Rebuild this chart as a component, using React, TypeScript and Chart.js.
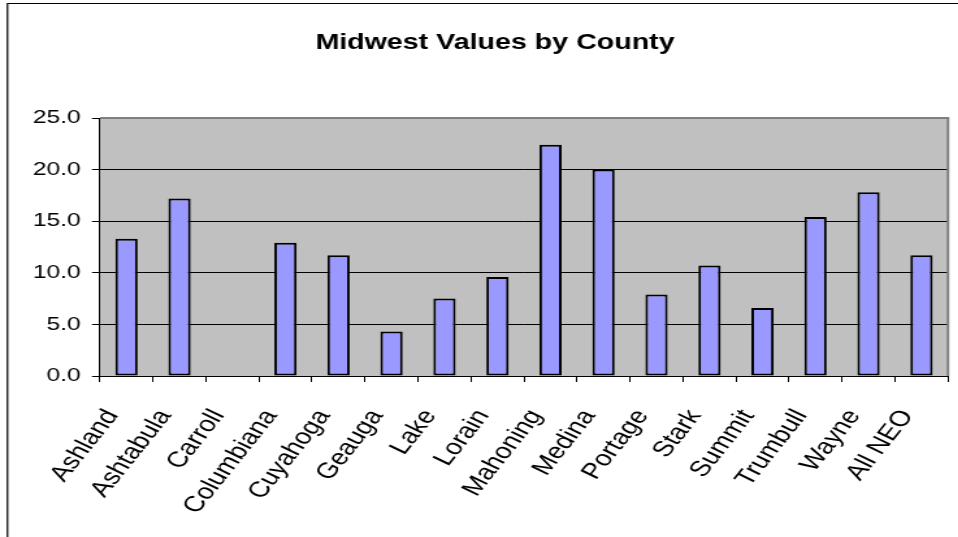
import React, { useEffect, useRef } from "react";
import { Chart, registerables } from "chart.js";

Chart.register(...registerables);

const chartTitle = "Midwest Values by County";
const counties = [
  "Ashland", "Ashtabula", "Carroll", "Columbiana", "Cuyahoga", "Geauga", "Lake", "Lorain",
  "Mahoning", "Medina", "Portage", "Stark", "Summit", "Trumbull", "Wayne", "All NEO",
];
const values = [13.3, 17.2, 0, 12.9, 11.7, 4.3, 7.5, 9.6, 22.4, 20.0, 7.9, 10.7, 6.6, 15.4, 17.8, 11.7];
const yTicks = [0, 5, 10, 15, 20, 25];
const yTickLabels = ["0.0", "5.0", "10.0", "15.0", "20.0", "25.0"];

const FONT = "Arial, 'Liberation Sans', sans-serif";
// The reference picture is horizontally stretched; draw at a narrower width and stretch it.
const SX = 1.3;
const CANVAS_W = 756;
const CANVAS_H = 537;

const decorPlugin = {
  id: "decor",
  beforeDraw(chart: any) {
    const { ctx, chartArea: a, width, height } = chart;
    ctx.save();
    ctx.fillStyle = "#ffffff";
    ctx.fillRect(0, 0, width, height);
    ctx.fillStyle = "#C0C0C0";
    ctx.fillRect(a.left, a.top, a.right - a.left, a.bottom - a.top);
    ctx.strokeStyle = "#000000";
    ctx.lineWidth = 1.2;
    ctx.beginPath();
    ctx.moveTo(7.5 / SX, height + 2);
    ctx.lineTo(7.5 / SX, 3.5);
    ctx.lineTo(width + 2, 3.5);
    ctx.stroke();
    ctx.restore();
  },
  beforeDatasetsDraw(chart: any) {
    const { ctx, chartArea: a } = chart;
    ctx.save();
    ctx.strokeStyle = "#808080";
    ctx.lineWidth = 2;
    ctx.beginPath();
    ctx.moveTo(a.left, a.top);
    ctx.lineTo(a.right, a.top);
    ctx.lineTo(a.right, a.bottom);
    ctx.stroke();
    ctx.restore();
  },
  afterDraw(chart: any) {
    const { ctx } = chart;
    ctx.save();
    ctx.fillStyle = "#000000";
    ctx.font = `bold 22px ${FONT}`;
    ctx.textAlign = "center";
    ctx.textBaseline = "alphabetic";
    ctx.fillText(chartTitle, 495 / SX, 48.5);
    ctx.restore();
  },
};

export default function App() {
  const ref = useRef<HTMLCanvasElement | null>(null);
  useEffect(() => {
    if (!ref.current) return;
    const chart = new Chart(ref.current, {
      type: "bar",
      data: {
        labels: counties,
        datasets: [
          {
            data: values,
            backgroundColor: "#9999FF",
            borderColor: "#000000",
            borderWidth: 2,
            borderSkipped: false,
            barPercentage: 0.42,
            categoryPercentage: 1,
          },
        ],
      },
      options: {
        responsive: false,
        animation: false,
        devicePixelRatio: 1,
        layout: { padding: { left: 0, right: CANVAS_W - 948 / SX, top: 118, bottom: 0 } },
        plugins: {
          legend: { display: false },
          tooltip: { enabled: false },
          title: { display: false },
        },
        scales: {
          x: {
            grid: {
              display: true,
              offset: true,
              drawOnChartArea: false,
              drawTicks: true,
              tickLength: 6,
              color: "#000000",
            },
            border: { display: true, color: "#000000", width: 1 },
            ticks: {
              color: "#000000",
              font: { family: FONT, size: 22 },
              minRotation: 58,
              maxRotation: 58,
              autoSkip: false,
              padding: 23,
              labelOffset: -11,
            },
            afterFit(scale: any) {
              scale.height = CANVAS_H - 376;
            },
          },
          y: {
            min: 0,
            max: 25,
            afterBuildTicks(scale: any) {
              scale.ticks = yTicks.map((v) => ({ value: v }));
            },
            grid: {
              color: (c: any) => (c.tick && c.tick.value === 25 ? "#808080" : "#000000"),
              tickColor: "#000000",
              tickLength: 8 / SX,
              lineWidth: 1,
            },
            border: { display: true, color: "#000000", width: 1 },
            ticks: {
              color: "#000000",
              font: { family: FONT, size: 19 },
              padding: 8.6,
              callback: (v: any) => {
                const i = yTicks.indexOf(Number(v));
                return i >= 0 ? yTickLabels[i] : "";
              },
            },
            afterFit(scale: any) {
              scale.width = 100 / SX;
            },
          },
        },
      },
      plugins: [decorPlugin],
    });
    return () => chart.destroy();
  }, []);

  return (
    <div
      style={{
        position: "fixed",
        left: 0,
        top: 0,
        width: 958,
        height: 537,
        overflow: "hidden",
        background: "#fff",
      }}
    >
      <canvas
        ref={ref}
        width={CANVAS_W}
        height={CANVAS_H}
        style={{ display: "block", transform: `scaleX(${SX})`, transformOrigin: "0 0" }}
      />
    </div>
  );
}
